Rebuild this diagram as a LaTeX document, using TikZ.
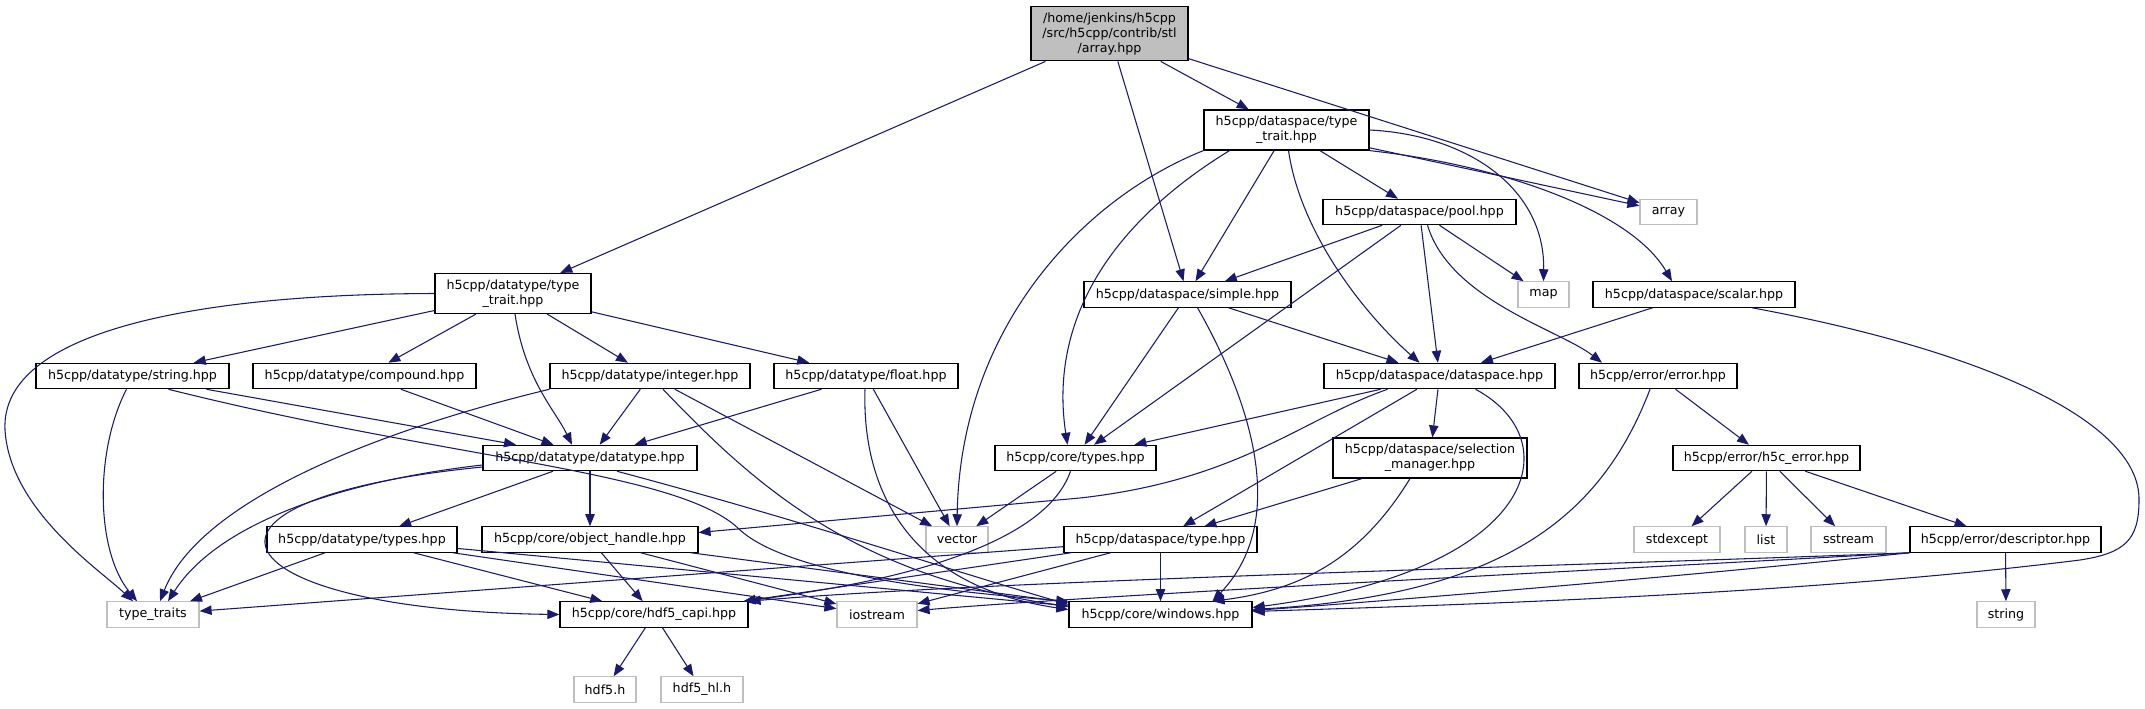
\documentclass[tikz,border=0pt]{standalone}
\usepackage{fontspec}
\setmainfont{DejaVu Sans}
\usetikzlibrary{arrows.meta, calc}
\definecolor{edgeblue}{HTML}{191970}
\definecolor{extgray}{HTML}{BFBFBF}

\begin{document}
\begin{tikzpicture}[
  x=0.75pt, y=-0.75pt,
  every node/.style={font=\fontsize{9.5}{11.25}\selectfont, align=center, inner sep=0pt},
  filebox/.style={rectangle, draw=black, fill=white, line width=0.9pt, minimum height=19pt},
  extbox/.style ={rectangle, draw=extgray, fill=white, line width=0.9pt, minimum height=19pt},
  rootbox/.style={rectangle, draw=black, fill=extgray, line width=0.9pt, minimum height=41pt},
  twoline/.style={minimum height=30pt},
  bw/.style={minimum width=#1*0.75pt},
  edge/.style={draw=edgeblue, line width=0.8pt, -{Triangle[length=9pt, width=7pt]}}
]
\useasboundingbox (0,0) rectangle (2145,708);

%% the file itself
\node[rootbox, bw=157] (root) at (1109.5,33.5) {/home/jenkins/h5cpp\\/src/h5cpp/contrib/stl\\/array.hpp};

%% first and second level
\node[filebox, twoline, bw=165] (dstt) at (1286.5,130) {h5cpp/dataspace/type\\\_trait.hpp};
\node[filebox, bw=193] (pool)  at (1419.5,212) {h5cpp/dataspace/pool.hpp};
\node[extbox,  bw=57]  (array) at (1668.5,212) {array};

\node[filebox, twoline, bw=156] (dttt) at (513,293.5) {h5cpp/datatype/type\\\_trait.hpp};
\node[filebox, bw=207] (simple) at (1187.5,294.5) {h5cpp/dataspace/simple.hpp};
\node[extbox,  bw=51]  (map)    at (1543.5,294.5) {map};
\node[filebox, bw=202] (scalar) at (1694,294.5)   {h5cpp/dataspace/scalar.hpp};

%% datatype / dataspace headers
\node[filebox, bw=193] (string)    at (132.5,376)  {h5cpp/datatype/string.hpp};
\node[filebox, bw=223] (compound)  at (364.5,376)  {h5cpp/datatype/compound.hpp};
\node[filebox, bw=200] (integer)   at (650,376)    {h5cpp/datatype/integer.hpp};
\node[filebox, bw=184] (float)     at (866,376)    {h5cpp/datatype/float.hpp};
\node[filebox, bw=231] (dataspace) at (1439.5,376) {h5cpp/dataspace/dataspace.hpp};
\node[filebox, bw=158] (error)     at (1658,376)   {h5cpp/error/error.hpp};

\node[filebox, bw=214] (datatype)  at (590,458)    {h5cpp/datatype/datatype.hpp};
\node[filebox, bw=161] (coretypes) at (1075.5,458) {h5cpp/core/types.hpp};
\node[filebox, twoline, bw=194] (selmgr) at (1430,458) {h5cpp/dataspace/selection\\\_manager.hpp};
\node[filebox, bw=187] (h5cerror)  at (1766.5,458) {h5cpp/error/h5c\_error.hpp};

\node[filebox, bw=190] (dttypes)    at (362,539.5)    {h5cpp/datatype/types.hpp};
\node[filebox, bw=216] (objhandle)  at (590,539.5)    {h5cpp/core/object\_handle.hpp};
\node[extbox,  bw=62]  (vector)     at (957,539.5)    {vector};
\node[filebox, bw=193] (dstype)     at (1160.5,539.5) {h5cpp/dataspace/type.hpp};
\node[extbox,  bw=86]  (stdexcept)  at (1677,539.5)   {stdexcept};
\node[extbox,  bw=42]  (list)       at (1766,539.5)   {list};
\node[extbox,  bw=75]  (sstream)    at (1848.5,539.5) {sstream};
\node[filebox, bw=191] (descriptor) at (2005.5,539.5) {h5cpp/error/descriptor.hpp};

%% bottom rows
\node[extbox,  bw=92]  (typetraits) at (153,614.5)    {type\_traits};
\node[filebox, bw=188] (capi)       at (654,614.5)    {h5cpp/core/hdf5\_capi.hpp};
\node[extbox,  bw=80]  (iostream)   at (877,614.5)    {iostream};
\node[filebox, bw=183] (windows)    at (1160.5,614.5) {h5cpp/core/windows.hpp};
\node[extbox,  bw=58]  (stringstd)  at (2006,614.5)   {string};
\node[extbox,  bw=62]  (hdf5h)      at (605,689.5)    {hdf5.h};
\node[extbox,  bw=82]  (hdf5hl)     at (702,689.5)    {hdf5\_hl.h};

%% straight includes
\foreach \a/\b in {root/dttt, root/simple, root/dstt, root/array,
  dstt/array, dstt/pool, dstt/simple,
  pool/simple, pool/coretypes, pool/dataspace, pool/map,
  simple/coretypes, simple/dataspace, scalar/dataspace,
  dataspace/coretypes, dataspace/dstype, dataspace/selmgr, selmgr/dstype,
  error/h5cerror, h5cerror/stdexcept, h5cerror/list, h5cerror/sstream,
  h5cerror/descriptor, descriptor/stringstd,
  dttt/string, dttt/compound, dttt/integer, dttt/float,
  string/datatype, compound/datatype, integer/datatype, integer/vector,
  float/datatype, float/vector, datatype/dttypes, datatype/objhandle,
  dttypes/typetraits, dttypes/capi, dttypes/iostream, dttypes/windows,
  objhandle/capi, objhandle/iostream, objhandle/windows, coretypes/vector,
  dstype/typetraits, dstype/capi, dstype/iostream, dstype/windows,
  capi/hdf5h, capi/hdf5hl}{
  \draw[edge] (\a) -- (\b);
}

%% curved includes, dataspace side
\draw[edge] (dstt.east) .. controls (1470,135) and (1545,190) .. (map.north);
\draw[edge] (dstt.south east) .. controls (1500,165) and (1630,210) .. ($(scalar.north)+(-22,0)$);
\draw[edge] ($(dstt.south)+(2,0)$) .. controls (1300,230) and (1360,310) .. ($(dataspace.north)+(-20,0)$);
\draw[edge] ($(dstt.south)+(-57,0)$) .. controls (1100,230) and (1050,330) .. ($(coretypes.north)+(-8,0)$);
\draw[edge] (dstt.south west) .. controls (1080,200) and (960,330) .. (vector.north);
\draw[edge] ($(pool.south)+(8,0)$) .. controls (1450,300) and (1560,330) .. ($(error.north)+(-56,0)$);
\draw[edge] ($(simple.south)+(10,0)$) .. controls (1250,400) and (1290,520) .. ($(windows.north)+(52,0)$);
\draw[edge] ($(scalar.south)+(58,0)$) .. controls (1980,350) and (2140,420) .. (2139,500)
  .. controls (2139,540) and (2125,553) .. (2080,560)
  .. controls (1800,595) and (1450,605) .. ($(windows.east)+(0,-3)$);
\draw[edge] ($(dataspace.south)+(-52,0)$) .. controls (1300,420) and (1240,480) .. (1080,498)
  -- ($(objhandle.east)+(0,-7)$);
\draw[edge] ($(dataspace.south)+(36,0)$) .. controls (1570,440) and (1540,570) .. ($(windows.east)+(0,-7)$);
\draw[edge] ($(selmgr.south)+(-20,0)$) .. controls (1360,560) and (1300,590) .. ($(windows.north)+(52,0)$);
\draw[edge] ($(error.south)+(-8,0)$) .. controls (1600,520) and (1500,595) .. ($(windows.east)+(0,-5)$);
\draw[edge] (descriptor.south west) .. controls (1700,575) and (1400,600) .. ($(windows.east)+(0,-4)$);
\draw[edge] (descriptor.south west) .. controls (1600,565) and (1000,580) .. (capi.north east);
\draw[edge] (descriptor.south west) .. controls (1600,570) and (1100,595) .. ($(iostream.east)+(0,-4)$);

%% curved includes, datatype side
\draw[edge] (dttt.west) .. controls (200,294) and (0,330) .. (5,430)
  .. controls (10,510) and (100,570) .. ($(typetraits.north)+(-20,0)$);
\draw[edge] ($(dttt.south)+(2,0)$) .. controls (525,380) and (555,410) .. ($(datatype.north)+(-18,0)$);
\draw[edge] ($(string.south)+(-6,0)$) .. controls (95,450) and (95,550) .. ($(typetraits.north)+(-16,0)$);
\draw[edge] ($(string.south)+(36,0)$) .. controls (450,460) and (680,470) .. (740,530)
  .. controls (790,575) and (950,592) .. (windows.north west);
\draw[edge] (integer.south west) .. controls (380,430) and (200,500) .. ($(typetraits.north)+(7,0)$);
\draw[edge] ($(integer.south)+(13,0)$) .. controls (750,480) and (850,575) .. ($(windows.west)+(0,-8)$);
\draw[edge] ($(float.south)+(-1,0)$) .. controls (862,480) and (900,585) .. ($(windows.west)+(0,-5)$);
\draw[edge] ($(datatype.west)+(0,7)$) .. controls (350,480) and (220,520) .. ($(typetraits.north)+(15,0)$);
\draw[edge] ($(datatype.west)+(0,9)$) .. controls (150,500) and (220,610) .. (capi.west);
\draw[edge] ($(datatype.south)+(27,0)$) .. controls (800,520) and (950,570) .. ($(windows.west)+(0,-10)$);
\draw[edge] ($(coretypes.south)+(-5,0)$) .. controls (1050,530) and (950,575) .. ($(capi.north east)+(-5,0)$);

\end{tikzpicture}
\end{document}
